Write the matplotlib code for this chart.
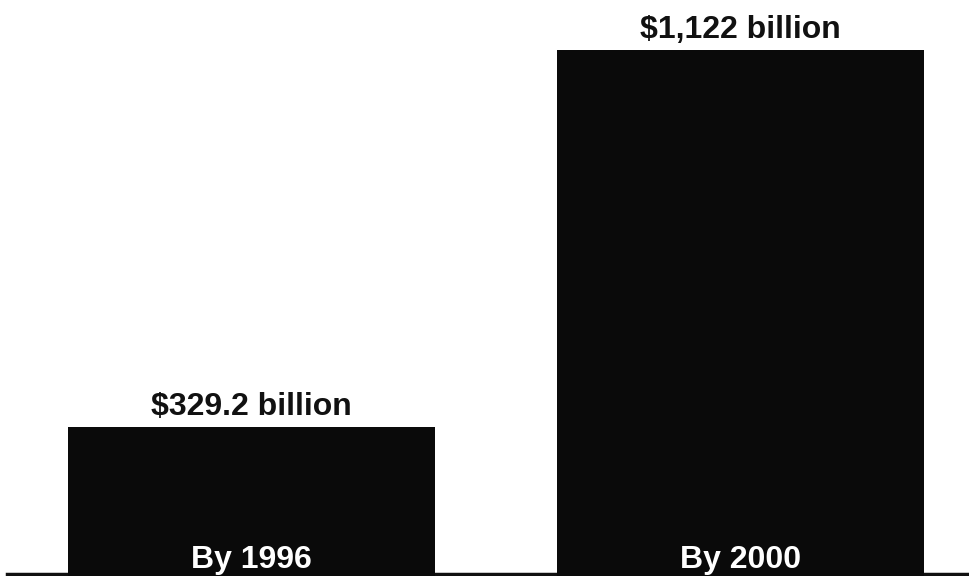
import matplotlib
matplotlib.use('Agg')
import matplotlib.pyplot as plt

# chart values
periods = ['By 1996', 'By 2000']
totals = [329.2, 1122]
value_labels = ['$329.2 billion', '$1,122 billion']

plt.rcParams['font.family'] = ['Liberation Sans', 'DejaVu Sans']

fig = plt.figure(figsize=(9.7, 5.76), dpi=100)
ax = fig.add_axes([0, 0, 1, 1])

x = range(len(periods))
bars = ax.bar(x, totals, width=0.75, color='#0a0a0a')

# zero sits just below the bottom edge of the picture
ax.set_xlim(-0.514, 1.469)
ax.set_ylim(15.8, 1227)

# value labels above the bars, period labels inside at the bottom
for xi, total, lab, period in zip(x, totals, value_labels, periods):
    ax.annotate(lab, (xi, total), xytext=(0, 8.5), textcoords='offset points',
                ha='center', va='baseline', fontsize=23, fontweight='bold', color='#111111')
    ax.annotate(period, (xi, 0), xytext=(0, 11), textcoords='offset points',
                ha='center', va='baseline', fontsize=23, fontweight='bold', color='white',
                annotation_clip=False)

# baseline rule along the bottom
ax.axhline(20, xmin=0.007, xmax=1, color='#111111', linewidth=2.5, zorder=0)

ax.axis('off')
fig.savefig('out.png', dpi=100, facecolor='white')
